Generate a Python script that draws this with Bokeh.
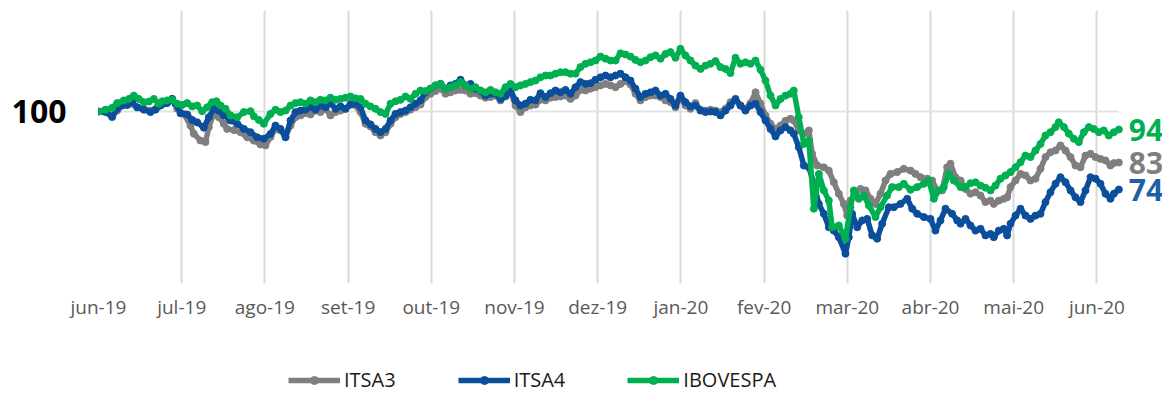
from bokeh.plotting import figure
from bokeh.layouts import column
from bokeh.models import FixedTicker, Legend, LegendItem, Range1d
from bokeh.embed import file_html
from bokeh.resources import INLINE
from bokeh.core.properties import value

# month tick labels (x positions are month index 0..12)
months = ["jun-19", "jul-19", "ago-19", "set-19", "out-19", "nov-19", "dez-19",
          "jan-20", "fev-20", "mar-20", "abr-20", "mai-20", "jun-20"]
base = 100

# ---- ITSA3 (position in months since jun-19, index value) ----
itsa3_m = [0.0, 0.084, 0.164, 0.224, 0.284, 0.345, 0.405, 0.465, 0.545, 0.625, 0.705, 0.785, 0.885, 0.946, 1.026,
           1.106, 1.146, 1.226, 1.286, 1.326, 1.386, 1.446, 1.506, 1.546, 1.627, 1.707, 1.787, 1.867, 1.947, 2.007,
           2.067, 2.127, 2.188, 2.248, 2.308, 2.368, 2.428, 2.488, 2.548, 2.608, 2.668, 2.728, 2.788, 2.849, 2.909,
           2.969, 3.029, 3.089, 3.149, 3.209, 3.269, 3.329, 3.389, 3.450, 3.510, 3.570, 3.630, 3.690, 3.750, 3.810,
           3.870, 3.930, 3.990, 4.050, 4.111,
           4.171, 4.231, 4.291, 4.351, 4.411, 4.471, 4.531, 4.591, 4.651, 4.712, 4.772, 4.832, 4.892, 4.952, 5.012,
           5.072, 5.132, 5.192, 5.252, 5.312, 5.373, 5.433, 5.493, 5.553, 5.613, 5.673, 5.733, 5.793, 5.853, 5.913,
           5.974, 6.034, 6.094, 6.154, 6.214,
           6.274, 6.334, 6.394, 6.454, 6.514, 6.575, 6.635, 6.695, 6.755, 6.815, 6.875, 6.935, 6.995, 7.055, 7.115,
           7.175, 7.236, 7.296, 7.356, 7.416, 7.476, 7.536, 7.596, 7.656, 7.716, 7.776, 7.837, 7.897, 7.957, 8.017,
           8.077, 8.137, 8.197, 8.257, 8.317,
           8.357, 8.417, 8.478, 8.538, 8.578, 8.638, 8.718, 8.778, 8.838, 8.898, 8.958, 8.998, 9.038, 9.099, 9.159,
           9.219, 9.279, 9.339, 9.399, 9.459, 9.519, 9.599, 9.679, 9.760, 9.820, 9.880, 9.960, 10.020, 10.080,
           10.140, 10.200, 10.240, 10.300, 10.361,
           10.421, 10.481, 10.541, 10.601, 10.661, 10.721, 10.761, 10.821, 10.881, 10.921, 10.962, 11.022, 11.082,
           11.142, 11.202, 11.262, 11.322, 11.382, 11.442, 11.502, 11.562, 11.623, 11.683, 11.743, 11.803, 11.863,
           11.923, 11.983, 12.043, 12.103, 12.163, 12.204, 12.264]
itsa3_v = [100.0, 100.1, 98.1, 100.3, 102.0, 102.2, 102.6, 101.4, 100.9, 100.3, 101.4, 102.6, 104.2, 100.9, 99.2,
           95.3, 92.6, 90.3, 89.8, 94.8, 99.4, 98.1, 95.9, 94.2, 93.8, 93.1, 91.4, 90.3, 89.0, 88.7,
           91.5, 94.2, 93.7, 91.7, 95.3, 98.1, 98.7, 99.4, 99.0, 100.3, 99.8, 100.9, 98.7, 99.8, 100.3,
           100.9, 102.6, 102.0, 99.8, 95.9, 95.0, 93.1, 92.0, 93.1, 95.9, 98.1, 99.2, 99.8, 100.6, 101.4,
           102.3, 104.8, 105.9, 106.8, 107.6,
           105.9, 106.4, 107.0, 107.2, 107.0, 105.9, 106.1, 105.3, 104.6, 104.8, 105.3, 103.7, 105.0, 106.4, 102.0,
           99.8, 101.4, 102.0, 102.3, 103.9, 103.7, 104.6, 104.8, 105.0, 105.3, 104.2, 105.3, 107.2, 107.0, 107.6,
           108.1, 108.7, 109.2, 108.7, 108.1,
           109.2, 110.1, 109.0, 105.9, 103.7, 104.8, 105.3, 105.3, 104.8, 103.7, 103.1, 101.4, 104.8, 102.0, 100.9,
           102.8, 100.6, 100.3, 100.6, 100.3, 99.8, 100.9, 103.1, 103.7, 102.0, 100.9, 102.8, 106.4, 102.6, 98.7,
           95.9, 94.2, 95.3, 96.9, 97.6,
           97.0, 93.7, 92.6, 93.7, 85.9, 82.0, 81.4, 80.3, 76.4, 72.6, 69.2, 65.3, 70.3, 72.6, 74.2,
           73.7, 70.9, 69.2, 72.6, 77.0, 79.2, 79.8, 80.9, 80.3, 79.2, 78.1, 77.6, 77.0, 73.7,
           73.7, 81.4, 82.6, 78.1, 77.0,
           74.2, 72.6, 73.1, 72.0, 69.8, 70.3, 69.2, 70.3, 70.9, 71.4, 74.8, 77.0, 79.2,
           78.7, 77.0, 77.6, 80.9, 84.8, 86.4, 87.0, 88.7, 87.0, 84.8, 82.0, 81.4, 85.3,
           85.9, 84.8, 84.2, 83.7, 82.0, 82.8, 83.0]

# ---- ITSA4 ----
itsa4_m = [0.0, 0.084, 0.164, 0.224, 0.284, 0.345, 0.405, 0.465, 0.545, 0.625, 0.685, 0.745, 0.825, 0.885, 0.925,
           0.986, 1.066, 1.126, 1.186, 1.266, 1.326, 1.386, 1.446, 1.506, 1.587, 1.667, 1.747, 1.827, 1.907, 1.987,
           2.067, 2.127, 2.188, 2.248, 2.308, 2.368, 2.428, 2.488, 2.548, 2.608, 2.668, 2.728, 2.788, 2.849, 2.909,
           2.969, 3.029, 3.089, 3.149, 3.209, 3.269, 3.329, 3.389, 3.450, 3.510, 3.570, 3.630, 3.690, 3.750, 3.810,
           3.870, 3.930, 3.990, 4.050, 4.111,
           4.171, 4.231, 4.291, 4.351, 4.411, 4.471, 4.531, 4.591, 4.651, 4.712, 4.772, 4.832, 4.892, 4.952, 5.012,
           5.072, 5.132, 5.192, 5.252, 5.312, 5.373, 5.433, 5.493, 5.553, 5.613, 5.673, 5.733, 5.793, 5.853, 5.913,
           5.974, 6.034, 6.094, 6.154, 6.214,
           6.274, 6.334, 6.394, 6.454, 6.514, 6.575, 6.635, 6.695, 6.755, 6.815, 6.875, 6.935, 6.995, 7.055, 7.115,
           7.175, 7.236, 7.296, 7.356, 7.416, 7.476, 7.536, 7.596, 7.656, 7.716, 7.776, 7.837, 7.897, 7.957, 8.017,
           8.077, 8.137, 8.197, 8.257, 8.317,
           8.357, 8.417, 8.478, 8.538, 8.598, 8.658, 8.718, 8.778, 8.838, 8.898, 8.978, 9.018, 9.058, 9.119, 9.179,
           9.239, 9.299, 9.359, 9.419, 9.499, 9.559, 9.639, 9.720, 9.780, 9.840, 9.920, 10.000, 10.060, 10.120,
           10.180, 10.260, 10.321, 10.361,
           10.421, 10.481, 10.541, 10.601, 10.661, 10.721, 10.761, 10.821, 10.881, 10.921, 10.962, 11.022, 11.082,
           11.142, 11.202, 11.262, 11.322, 11.382, 11.442, 11.502, 11.562, 11.623, 11.683, 11.743, 11.803, 11.863,
           11.923, 11.983, 12.043, 12.103, 12.163, 12.204, 12.264]
itsa4_v = [100.0, 99.8, 98.3, 100.9, 102.0, 102.2, 103.1, 101.4, 100.6, 99.8, 100.6, 102.0, 102.8, 104.2, 102.6,
           99.4, 99.0, 97.2, 96.4, 94.6, 98.1, 100.9, 100.3, 98.7, 97.0, 95.9, 94.2, 93.1, 91.4, 90.9,
           92.5, 95.3, 94.2, 91.4, 97.0, 99.8, 100.3, 100.6, 101.4, 100.6, 102.0, 101.4, 102.8, 100.9, 101.7,
           100.9, 102.3, 102.6, 101.4, 97.0, 95.7, 94.2, 93.1, 94.2, 97.0, 99.2, 99.8, 100.3, 101.4, 102.6,
           103.7, 106.4, 107.6, 108.7, 109.2,
           107.6, 108.7, 109.2, 110.6, 108.7, 109.2, 107.6, 106.8, 105.3, 105.9, 105.9, 104.2, 105.3, 107.0, 103.7,
           102.0, 102.6, 103.9, 103.7, 106.1, 104.8, 106.1, 107.0, 106.4, 107.2, 105.9, 108.1, 109.8, 109.2, 109.4,
           110.6, 111.4, 112.0, 111.4, 112.0,
           112.6, 111.4, 110.3, 107.6, 104.8, 105.9, 106.4, 107.0, 105.3, 105.9, 104.2, 102.0, 105.3, 103.1, 101.7,
           102.0, 100.3, 99.8, 100.0, 99.8, 98.7, 100.3, 102.0, 104.2, 102.0, 100.3, 102.0, 102.6, 99.8, 97.0,
           94.2, 91.7, 93.7, 94.8, 93.7,
           92.6, 88.1, 82.0, 81.4, 75.9, 69.2, 65.9, 61.4, 60.3, 58.1, 52.6, 58.1, 65.9, 61.4, 63.7,
           64.2, 58.7, 57.6, 62.6, 68.1, 68.1, 69.2, 70.9, 67.6, 65.9, 64.8, 64.2, 60.3, 63.7,
           67.6, 65.9, 63.7, 62.6,
           64.2, 62.0, 60.3, 60.9, 58.7, 59.2, 58.1, 60.3, 60.9, 58.7, 62.6, 65.3, 67.6,
           65.3, 64.2, 65.3, 65.9, 69.8, 73.1, 75.9, 78.1, 76.4, 73.7, 71.4, 69.8, 73.7,
           78.1, 77.6, 75.9, 72.6, 70.9, 72.6, 74.0]

# ---- IBOVESPA ----
ibov_m = [0.0, 0.084, 0.164, 0.224, 0.304, 0.365, 0.425, 0.485, 0.545, 0.605, 0.665, 0.725, 0.765, 0.825, 0.885,
          0.946, 1.006, 1.066, 1.126, 1.186, 1.246, 1.306, 1.366, 1.418, 1.466, 1.526, 1.587, 1.667, 1.747, 1.827,
          1.867, 1.927, 1.987,
          2.067, 2.127, 2.188, 2.248, 2.308, 2.368, 2.428, 2.488, 2.548, 2.608, 2.668, 2.728, 2.788, 2.849, 2.909,
          2.969, 3.029, 3.089, 3.149, 3.209, 3.269, 3.329, 3.389, 3.450, 3.510, 3.570, 3.630, 3.690, 3.750, 3.810,
          3.870, 3.930, 3.990, 4.050, 4.111,
          4.171, 4.231, 4.291, 4.351, 4.411, 4.471, 4.531, 4.591, 4.651, 4.712, 4.772, 4.832, 4.892, 4.952, 5.012,
          5.072, 5.132, 5.192, 5.252, 5.312, 5.373, 5.433, 5.493, 5.553, 5.613, 5.673, 5.733, 5.793, 5.853, 5.913,
          5.974, 6.034, 6.094, 6.154, 6.214,
          6.274, 6.334, 6.394, 6.454, 6.514, 6.575, 6.635, 6.695, 6.755, 6.815, 6.875, 6.935, 6.995, 7.055, 7.115,
          7.175, 7.236, 7.296, 7.356, 7.416, 7.476, 7.536, 7.596, 7.656, 7.716, 7.776, 7.837, 7.897, 7.957, 8.017,
          8.077, 8.137, 8.197, 8.257, 8.317,
          8.357, 8.417, 8.478, 8.538, 8.598, 8.658, 8.718, 8.778, 8.818, 8.898, 8.978, 9.038, 9.079, 9.139, 9.199,
          9.259, 9.339, 9.399, 9.479, 9.539, 9.619, 9.679, 9.760, 9.840, 9.920, 9.980, 10.040, 10.100, 10.160,
          10.220, 10.280, 10.361,
          10.421, 10.481, 10.541, 10.601, 10.661, 10.721, 10.781, 10.841, 10.901, 10.962, 11.022, 11.082, 11.142,
          11.202, 11.262, 11.322, 11.382, 11.442, 11.502, 11.542, 11.603, 11.663, 11.723, 11.783, 11.843, 11.903,
          11.963, 12.023, 12.083, 12.143, 12.204, 12.264]
ibov_v = [100.0, 100.6, 101.2, 102.8, 103.7, 104.2, 105.3, 104.2, 103.1, 103.3, 104.2, 102.6, 103.4, 103.7, 103.9,
          102.6, 102.2, 102.8, 101.7, 102.0, 100.1, 101.4, 103.1, 103.4, 102.0, 100.9, 98.7, 98.1, 99.8, 100.1,
          98.4, 97.2, 95.9,
          99.2, 100.6, 99.8, 100.3, 102.0, 102.8, 103.1, 102.6, 103.7, 103.1, 103.9, 103.7, 104.6, 103.9, 104.2,
          104.6, 105.0, 104.4, 104.2, 102.6, 101.7, 100.9, 99.8, 99.2, 102.6, 103.4, 103.9, 105.0, 104.2, 105.9,
          107.0, 106.8, 107.6, 108.7, 109.2,
          107.6, 108.1, 108.7, 109.8, 108.7, 107.6, 108.1, 107.0, 106.4, 107.2, 106.4, 105.9, 108.1, 109.2, 108.1,
          108.7, 109.2, 109.8, 110.3, 111.4, 112.0, 112.0, 112.6, 113.1, 113.1, 112.6, 112.6, 114.8, 115.9, 116.4,
          117.0, 118.3, 117.6, 117.0, 117.0,
          119.4, 119.0, 118.3, 117.2, 116.4, 117.0, 118.1, 118.7, 117.6, 119.2, 119.8, 117.9, 120.9, 118.7, 117.0,
          115.3, 114.2, 115.3, 115.9, 116.8, 114.8, 114.2, 112.8, 117.9, 115.9, 116.4, 115.9, 117.0, 113.9, 110.3,
          105.3, 102.0, 104.2, 105.3, 105.9,
          107.0, 98.1, 89.2, 90.3, 67.6, 79.2, 73.7, 70.3, 61.4, 62.0, 57.5, 68.1, 73.7, 70.9, 72.0,
          68.7, 64.8, 68.1, 72.0, 74.8, 74.8, 75.9, 73.9, 74.8, 75.9, 77.0, 70.9, 73.7, 74.8,
          79.2, 77.0, 74.8,
          74.8, 76.1, 76.4, 75.3, 74.6, 73.7, 75.3, 77.6, 78.7, 79.8, 81.4, 83.1, 85.3,
          84.8, 87.0, 89.2, 92.0, 93.1, 94.8, 96.4, 94.8, 92.6, 90.9, 89.8, 93.1, 94.8,
          94.2, 93.1, 93.7, 92.0, 93.1, 94.0]

series = [
    ("ITSA3", itsa3_m, itsa3_v, "#7f7f7f", "#7f7f7f"),
    ("ITSA4", itsa4_m, itsa4_v, "#0b4f9c", "#1f5fa8"),
    ("IBOVESPA", ibov_m, ibov_v, "#00b050", "#00b050"),
]

W = 1162
H_MAIN = 340
H_LEG = 54
LEFT, TOP, BOTTOM = 98, 10, 57
px_per_month = 83.2
px_per_unit = 3.0
frame_w = W - LEFT
frame_h = H_MAIN - TOP - BOTTOM
y_top = base + 101 / px_per_unit
p = figure(width=W, height=H_MAIN, output_backend="svg", toolbar_location=None,
           x_range=Range1d(0, frame_w / px_per_month),
           y_range=Range1d(y_top - frame_h / px_per_unit, y_top),
           min_border_left=LEFT, min_border_right=0, min_border_top=TOP, min_border_bottom=BOTTOM)
p.outline_line_color = None
p.background_fill_color = "white"
p.border_fill_color = "white"

font = "Open Sans"
tick_pos = list(range(len(months)))
p.xaxis.ticker = FixedTicker(ticks=tick_pos)
p.xaxis.major_label_overrides = {i: lab for i, lab in zip(tick_pos, months)}
p.xaxis.axis_line_color = None
p.xaxis.major_tick_line_color = None
p.xaxis.minor_tick_line_color = None
p.xaxis.major_label_text_font = font
p.xaxis.major_label_text_font_size = "19px"
p.xaxis.major_label_text_color = "#595959"
p.xaxis.major_label_standoff = 4

p.yaxis.ticker = FixedTicker(ticks=[base])
p.yaxis.major_label_overrides = {base: str(base)}
p.yaxis.axis_line_color = None
p.yaxis.major_tick_line_color = None
p.yaxis.minor_tick_line_color = None
p.yaxis.major_label_text_font = font
p.yaxis.major_label_text_font_style = "bold"
p.yaxis.major_label_text_font_size = "32px"
p.yaxis.major_label_text_color = "black"
p.yaxis.major_label_standoff = 26

p.xgrid.ticker = FixedTicker(ticks=tick_pos)
p.xgrid.grid_line_color = "#d9d9d9"
p.xgrid.grid_line_width = 2
p.ygrid.visible = False

last_m = max(s[1][-1] for s in series)
p.segment(x0=[0], x1=[last_m], y0=[base], y1=[base], line_color="#e3e3e3", line_width=2)

# legend strip below the chart (its own series copies lie outside its 0..1 ranges,
# so only their legend glyphs show)
leg = figure(width=W, height=H_LEG, output_backend="svg", toolbar_location=None,
             x_range=Range1d(0, 1), y_range=Range1d(0, 1),
             x_axis_location=None, y_axis_location=None, min_border=0)
leg.outline_line_color = None
leg.grid.visible = False
leg.background_fill_color = "white"
leg.border_fill_color = "white"

items = []
for name, xs, ys, col, tcol in series:
    p.line(xs, ys, line_color=col, line_width=5.5, line_join="round", line_cap="round")
    p.scatter(xs, ys, size=7, fill_color=col, line_color=col, marker="circle")
    p.text(x=[xs[-1]], y=[ys[-1]], text=[str(round(ys[-1]))], x_offset=10, y_offset=0,
           text_font=value(font), text_font_style="bold", text_font_size="30px",
           text_color=tcol, text_align="left", text_baseline="middle")
    l1 = leg.line(xs, ys, line_color=col, line_width=5.5)
    l2 = leg.scatter(xs, ys, size=7, fill_color=col, line_color=col, marker="circle")
    items.append(LegendItem(label=name, renderers=[l1, l2], index=0))

legend = Legend(items=items, location=(190, 1), orientation="horizontal",
                label_text_font=font, label_text_font_size="20px", label_text_color="#1a1a1a",
                glyph_width=52, glyph_height=20, spacing=62, label_standoff=4, padding=0, margin=0,
                border_line_color=None, background_fill_alpha=0)
leg.add_layout(legend)

layout = column(p, leg, spacing=0)
open("out.html", "w").write(file_html(layout, INLINE))
